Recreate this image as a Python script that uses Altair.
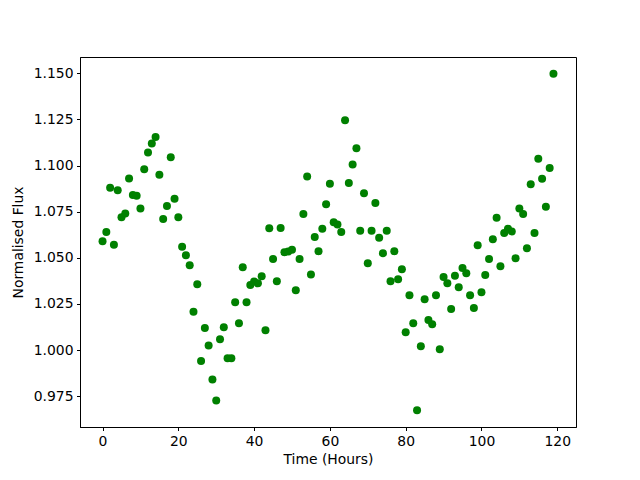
import altair as alt
import pandas as pd

hours = list(range(120))
flux = [
    1.059, 1.064, 1.088, 1.057, 1.0866, 1.072, 1.074, 1.093, 1.084, 1.0836,
    1.0767, 1.098, 1.107, 1.112, 1.1155, 1.095, 1.071, 1.078, 1.1045, 1.082,
    1.072, 1.056, 1.0514, 1.046, 1.0207, 1.0357, 0.994, 1.012, 1.0025, 0.984,
    0.9727, 1.0058, 1.0123, 0.9955, 0.9955, 1.0259, 1.0145, 1.0449, 1.0259, 1.0353,
    1.0371, 1.0362, 1.040, 1.0107, 1.066, 1.0493, 1.0373, 1.0662, 1.053, 1.0534,
    1.0543, 1.0324, 1.0493, 1.0737, 1.094, 1.041, 1.0612, 1.0536, 1.0657, 1.079,
    1.0901, 1.0692, 1.068, 1.064, 1.1245, 1.0905, 1.1005, 1.1094, 1.0646, 1.085,
    1.047, 1.0646, 1.0797, 1.0608, 1.0525, 1.0646, 1.0373, 1.0536, 1.0384, 1.0438,
    1.0096, 1.0297, 1.0145, 0.9674, 1.002, 1.0275, 1.0163, 1.014, 1.0297, 1.0004,
    1.0396, 1.0362, 1.0222, 1.0402, 1.034, 1.0445, 1.0416, 1.0297, 1.0228, 1.0568,
    1.0313, 1.0407, 1.0493, 1.06, 1.0717, 1.0454, 1.0634, 1.0657, 1.0643, 1.0498,
    1.0767, 1.0737, 1.0552, 1.0898, 1.0634, 1.1037, 1.0928, 1.0776, 1.0986, 1.1497,
]
x_ticks = [0, 20, 40, 60, 80, 100, 120]
y_ticks = [0.975, 1.000, 1.025, 1.050, 1.075, 1.100, 1.125, 1.150]

df = pd.DataFrame({"hours": hours, "flux": flux})

fmin, fmax = min(flux), max(flux)
fr = fmax - fmin
xr = max(hours) - min(hours)

chart = alt.Chart(df).mark_circle(size=64, color="#008000", opacity=1).encode(
    x=alt.X("hours:Q",
            scale=alt.Scale(domain=[min(hours) - 0.05 * xr, max(hours) + 0.05 * xr], nice=False, zero=False),
            axis=alt.Axis(title="Time (Hours)", values=x_ticks, format="d")),
    y=alt.Y("flux:Q",
            scale=alt.Scale(domain=[fmin - 0.05 * fr, fmax + 0.05 * fr], nice=False, zero=False),
            axis=alt.Axis(title="Normalised Flux", values=y_ticks, format=".3f")),
).properties(
    width=496, height=370,
    autosize="none",
    padding={"left": 72, "top": 49, "right": 56, "bottom": 45},
).configure_view(
    stroke="black", strokeWidth=1
).configure_axis(
    grid=False,
    domainColor="black", domainWidth=1,
    tickColor="black", tickSize=3.5, tickWidth=1,
    labelFont="DejaVu Sans", labelFontSize=13.9, labelColor="black", labelPadding=3.5,
    titleFont="DejaVu Sans", titleFontSize=13.9, titleColor="black", titleFontWeight="normal",
).configure_axisX(titlePadding=5).configure_axisY(titlePadding=8)

chart.save("out.html", embed_options={"renderer": "svg", "actions": False})
